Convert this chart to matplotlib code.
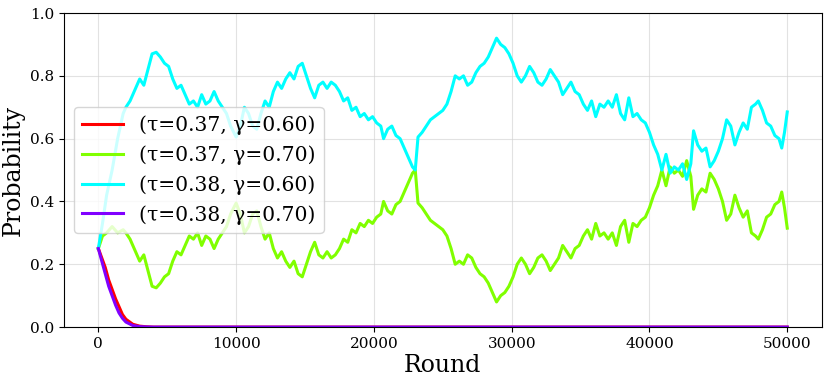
import matplotlib
matplotlib.use("Agg")
import matplotlib.pyplot as plt

plt.rcParams['font.family'] = ['DejaVu Serif']

# rounds shared by the two long-lived series
rounds = [0, 300, 600, 1000, 1400, 1800, 2000, 2300, 2600, 3000, 3300, 3600, 3900, 4200,
          4500, 4800, 5100, 5400, 5700, 6000, 6300, 6600, 6900, 7200, 7500, 7800, 8100,
          8400, 8700, 9000, 9300, 9600, 10000, 10300, 10600, 10900, 11200, 11500, 11800,
          12100, 12400, 12700, 13000, 13300, 13600, 13900, 14200, 14500, 14800, 15100,
          15400, 15700, 16000, 16300, 16600, 16900, 17200, 17500, 17800, 18100, 18400,
          18700, 19000, 19300, 19600, 19900, 20200, 20500, 20700, 21000, 21300, 21600,
          21900, 22200, 22500, 22800, 23000, 23200, 23500, 23800, 24100, 24400, 24700,
          25000, 25300, 25600, 25900, 26200, 26500, 26800, 27100, 27400, 27700, 28000,
          28300, 28600, 28900, 29200, 29500, 29800, 30100, 30400, 30700, 31000, 31300,
          31600, 31900, 32200, 32500, 32800, 33100, 33400, 33700, 34000, 34300, 34600,
          34900, 35200, 35500, 35800, 36100, 36400, 36700, 37000, 37300, 37600, 37900,
          38200, 38500, 38800, 39100, 39400, 39700, 40000, 40300, 40600, 40900, 41200,
          41500, 41800, 42100, 42400, 42700, 43000, 43200, 43500, 43800, 44100, 44400,
          44700, 45000, 45300, 45600, 45900, 46200, 46500, 46800, 47100, 47400, 47700,
          47900, 48200, 48500, 48800, 49100, 49400, 49600, 49800, 50000]

cyan_038_060 = [0.25, 0.33, 0.42, 0.50, 0.60, 0.68, 0.70, 0.72, 0.75, 0.79, 0.77, 0.82, 0.87, 0.875,
                0.86, 0.84, 0.83, 0.79, 0.76, 0.77, 0.74, 0.71, 0.72, 0.70, 0.74, 0.71, 0.72,
                0.75, 0.72, 0.70, 0.68, 0.64, 0.605, 0.64, 0.70, 0.68, 0.64, 0.63, 0.68,
                0.72, 0.70, 0.75, 0.78, 0.76, 0.79, 0.81, 0.79, 0.83, 0.84, 0.80,
                0.76, 0.73, 0.77, 0.78, 0.76, 0.78, 0.77, 0.75, 0.72, 0.73, 0.69,
                0.70, 0.67, 0.68, 0.66, 0.67, 0.65, 0.64, 0.60, 0.63, 0.64, 0.61,
                0.60, 0.57, 0.54, 0.51, 0.50, 0.605, 0.62, 0.64, 0.66, 0.67, 0.68,
                0.69, 0.71, 0.75, 0.80, 0.79, 0.80, 0.77, 0.78, 0.81, 0.83, 0.84,
                0.86, 0.89, 0.92, 0.90, 0.89, 0.87, 0.84, 0.80, 0.78, 0.80, 0.83,
                0.81, 0.78, 0.77, 0.79, 0.82, 0.80, 0.78, 0.74, 0.76, 0.78, 0.75,
                0.74, 0.71, 0.69, 0.72, 0.67, 0.71, 0.70, 0.72, 0.70, 0.74, 0.68,
                0.66, 0.73, 0.67, 0.68, 0.66, 0.65, 0.62, 0.58, 0.55, 0.50, 0.55,
                0.49, 0.51, 0.50, 0.52, 0.47, 0.52, 0.625, 0.58, 0.56, 0.57, 0.51,
                0.53, 0.56, 0.60, 0.66, 0.64, 0.58, 0.62, 0.65, 0.63, 0.70, 0.71,
                0.72, 0.69, 0.65, 0.64, 0.61, 0.60, 0.57, 0.62, 0.685]

lime_037_070 = [0.25, 0.29, 0.30, 0.32, 0.30, 0.31, 0.30, 0.28, 0.25, 0.21, 0.23, 0.18, 0.13, 0.125,
                0.14, 0.16, 0.17, 0.21, 0.24, 0.23, 0.26, 0.29, 0.28, 0.30, 0.26, 0.29, 0.28,
                0.25, 0.28, 0.30, 0.32, 0.36, 0.395, 0.36, 0.30, 0.32, 0.36, 0.37, 0.32,
                0.28, 0.30, 0.25, 0.22, 0.24, 0.21, 0.19, 0.21, 0.17, 0.16, 0.20,
                0.24, 0.27, 0.23, 0.22, 0.24, 0.22, 0.23, 0.25, 0.28, 0.27, 0.31,
                0.30, 0.33, 0.32, 0.34, 0.33, 0.35, 0.36, 0.40, 0.37, 0.36, 0.39,
                0.40, 0.43, 0.46, 0.49, 0.50, 0.395, 0.38, 0.36, 0.34, 0.33, 0.32,
                0.31, 0.29, 0.25, 0.20, 0.21, 0.20, 0.23, 0.22, 0.19, 0.17, 0.16,
                0.14, 0.11, 0.08, 0.10, 0.11, 0.13, 0.16, 0.20, 0.22, 0.20, 0.17,
                0.19, 0.22, 0.23, 0.21, 0.18, 0.20, 0.22, 0.26, 0.24, 0.22, 0.25,
                0.26, 0.29, 0.31, 0.28, 0.33, 0.29, 0.30, 0.28, 0.30, 0.26, 0.32,
                0.34, 0.27, 0.33, 0.32, 0.34, 0.35, 0.38, 0.42, 0.45, 0.50, 0.45,
                0.51, 0.49, 0.50, 0.48, 0.53, 0.48, 0.375, 0.42, 0.44, 0.43, 0.49,
                0.47, 0.44, 0.40, 0.34, 0.36, 0.42, 0.38, 0.35, 0.37, 0.30, 0.29,
                0.28, 0.31, 0.35, 0.36, 0.39, 0.40, 0.43, 0.38, 0.315]

# the two series that die out early
decay_rounds = [0, 250, 500, 750, 1000, 1250, 1500, 1750, 2000, 2500, 3000, 3500, 4000, 50000]
red_037_060 = [0.25, 0.22, 0.19, 0.15, 0.12, 0.09, 0.065, 0.04, 0.025, 0.009, 0.003, 0.001, 0.0, 0.0]
purple_038_070 = [0.25, 0.21, 0.17, 0.13, 0.10, 0.07, 0.045, 0.028, 0.016, 0.005, 0.0015, 0.0005, 0.0, 0.0]

fig = plt.figure(figsize=(8.3, 3.83), dpi=100)
ax = fig.add_axes([0.077, 0.146, 0.913, 0.820])

ax.plot(decay_rounds, red_037_060, color='#ff0000', lw=2.2, label='(τ=0.37, γ=0.60)')
ax.plot(rounds, lime_037_070, color='#80ff00', lw=2.2, label='(τ=0.37, γ=0.70)')
ax.plot(rounds, cyan_038_060, color='#00ffff', lw=2.2, label='(τ=0.38, γ=0.60)')
ax.plot(decay_rounds, purple_038_070, color='#8000ff', lw=2.2, label='(τ=0.38, γ=0.70)')

ax.set_ylim(0, 1.0)
ax.set_xlabel('Round', fontsize=17, labelpad=2)
ax.set_ylabel('Probability', fontsize=17, labelpad=4)
ax.tick_params(labelsize=11)
ax.grid(True, color='#d0d0d0', alpha=0.6, lw=0.8)
ax.legend(loc='center left', fontsize=14.6, handlelength=2.0)

fig.savefig('out.png', dpi=100)
